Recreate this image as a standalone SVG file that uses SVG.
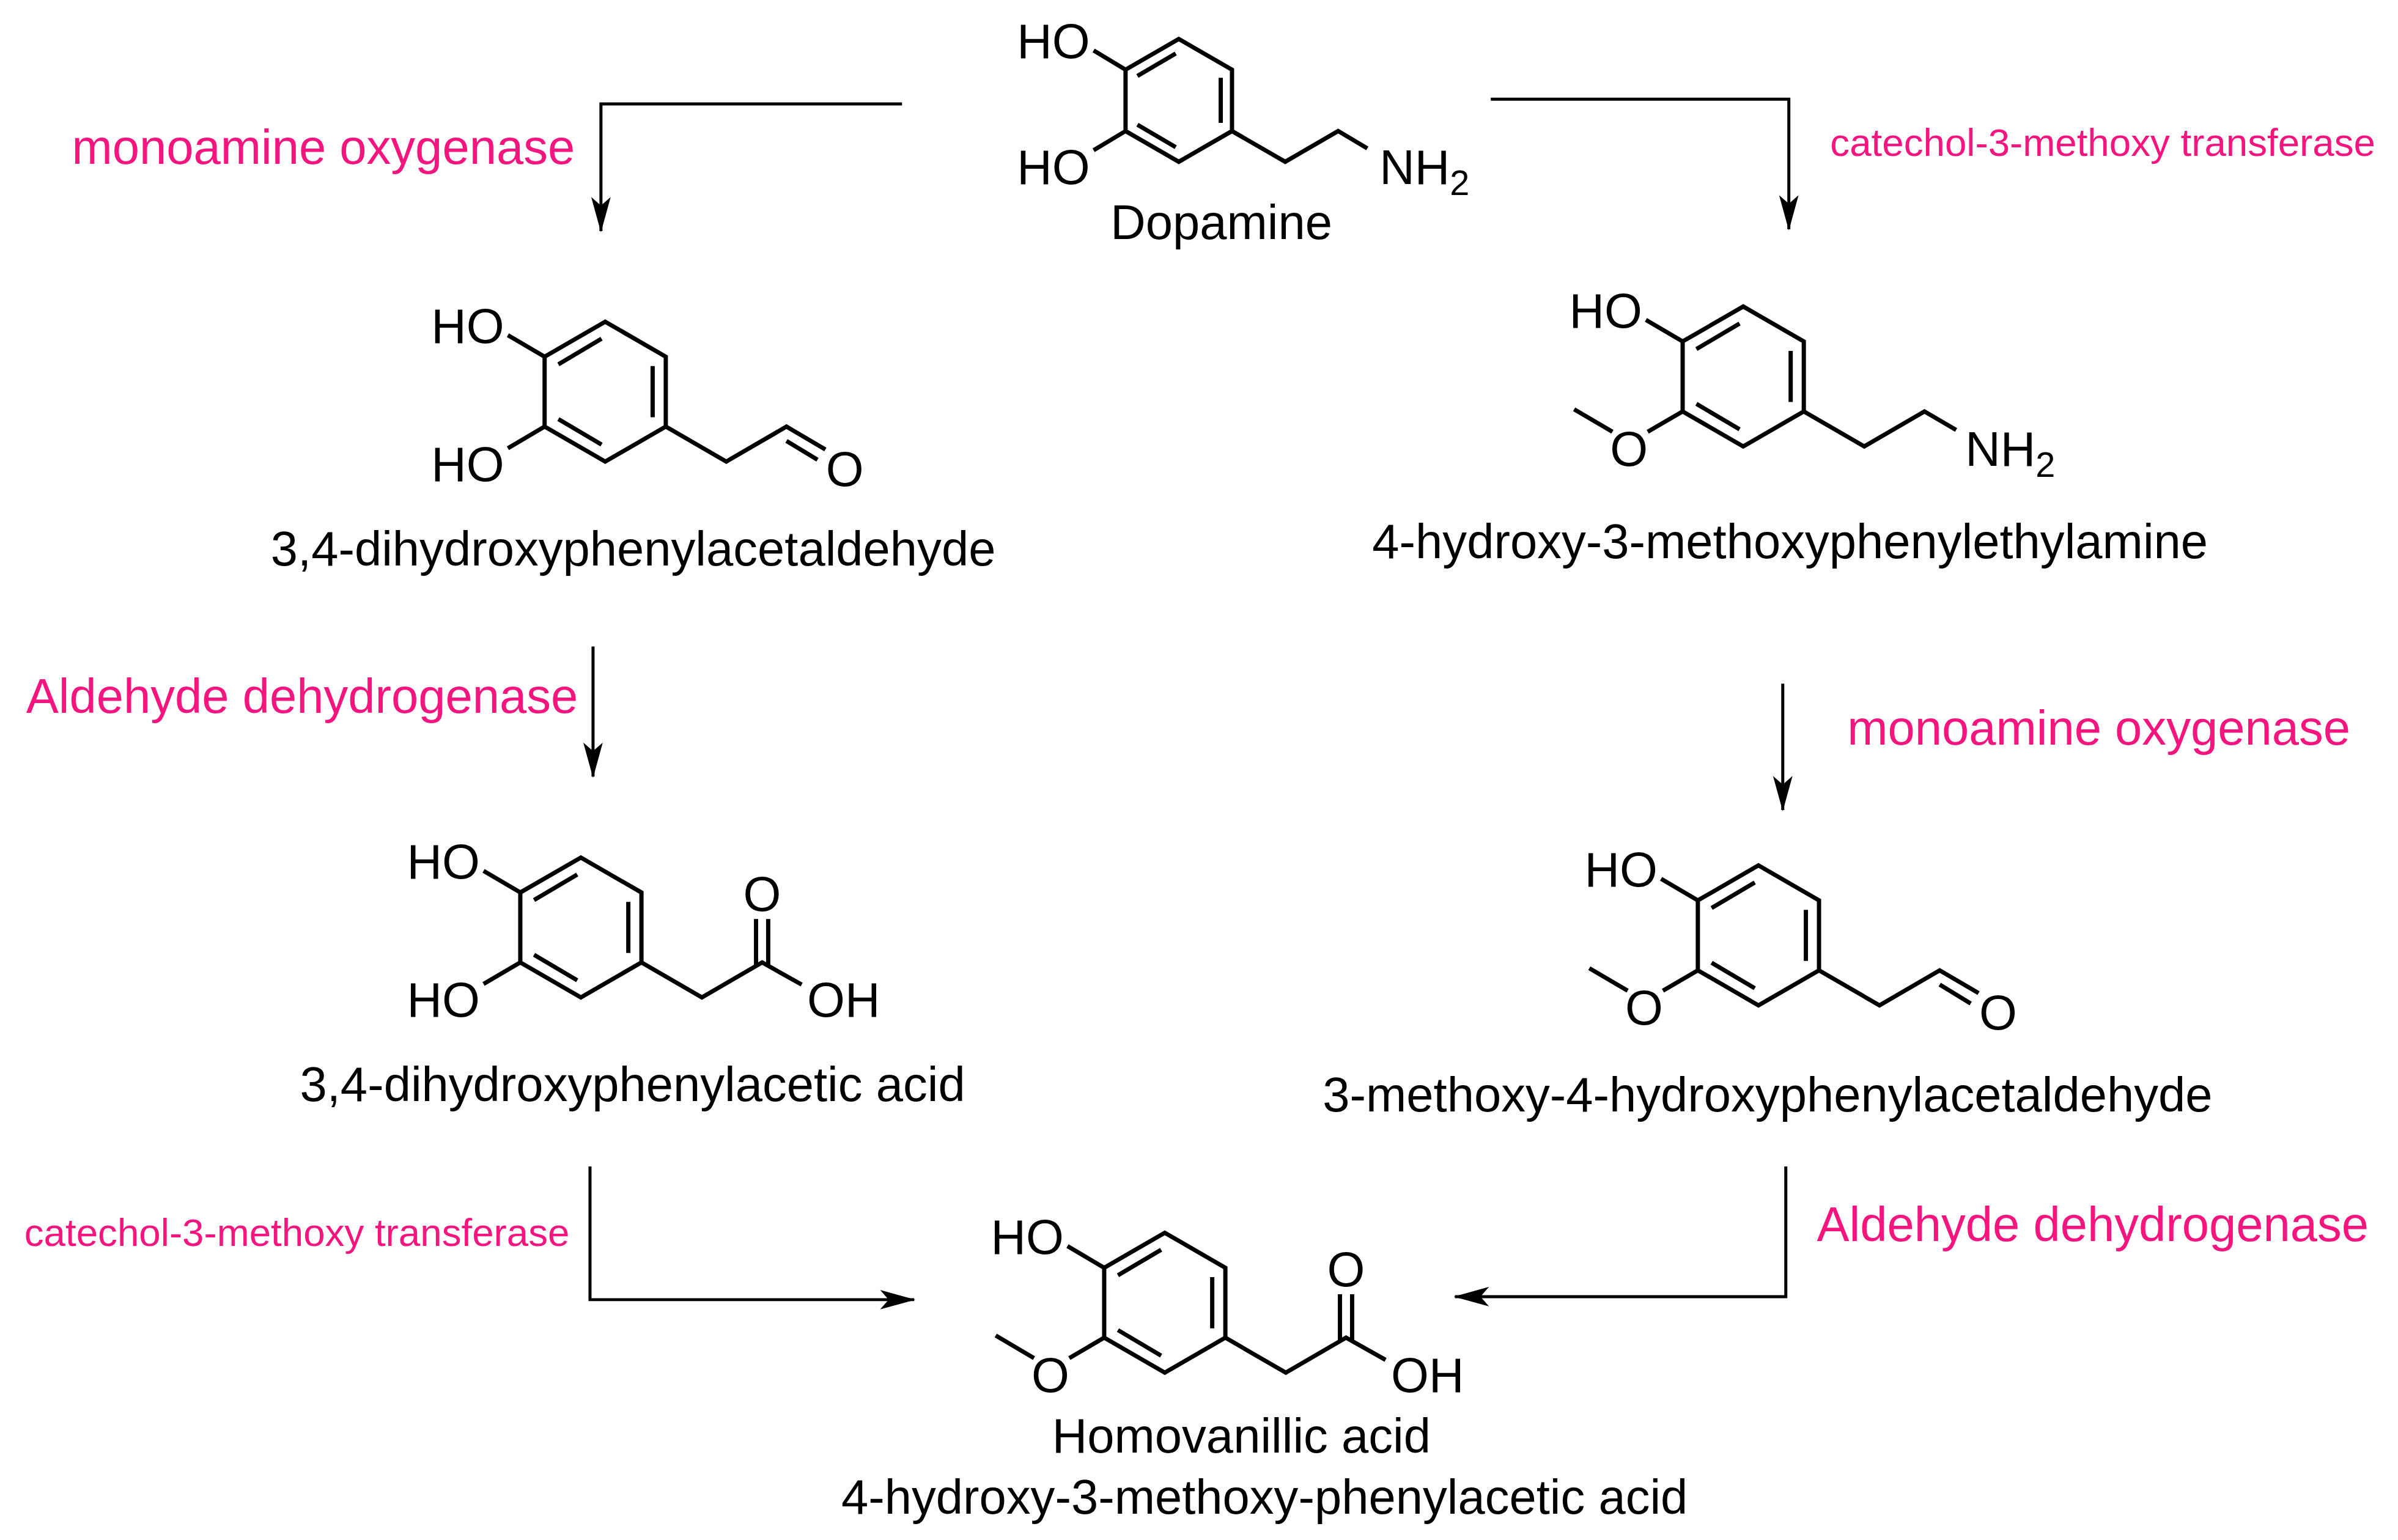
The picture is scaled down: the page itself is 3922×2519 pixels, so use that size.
<svg xmlns="http://www.w3.org/2000/svg" width="3922" height="2519" viewBox="0 0 3922 2519">
<style>
.b{fill:none;stroke:#000;stroke-width:7;stroke-linecap:butt;stroke-linejoin:miter}
.c{fill:none;stroke:#000;stroke-width:5}
text{font-family:"Liberation Sans",Arial,sans-serif;font-size:80px;fill:#000}
.p{fill:#f5157f}
.s{font-size:64px}
.m{text-anchor:middle}
.e{text-anchor:end}
</style>
<defs>
<marker id="ah" markerWidth="60" markerHeight="40" viewBox="0 0 60 40" refX="56" refY="20" orient="auto" markerUnits="userSpaceOnUse">
<path d="M0,4 L58,20 L0,36 L14,20 Z" fill="#000"/>
</marker>
<g id="ring">
<path class="b" d="M0,-115 L99.6,-57.5 L99.6,57.5 L0,115 L-99.6,57.5 L-99.6,-57.5 Z"/>
<path class="b" d="M78,-42 L78,42 M-77,-45 L-6,-87 M-77,45 L-6,87"/>
</g>
</defs>
<rect width="3922" height="2519" fill="#fff"/>
<g transform="scale(0.9948)">
<g id="connectors">
<path class="c" d="M1483,171 L988,171 L988,380" marker-end="url(#ah)"/>
<path class="c" d="M2451,163 L2941,163 L2941,377" marker-end="url(#ah)"/>
<path class="c" d="M975,1063 L975,1277" marker-end="url(#ah)"/>
<path class="c" d="M2931,1124 L2931,1332" marker-end="url(#ah)"/>
<path class="c" d="M970,1918 L970,2137 L1503,2137" marker-end="url(#ah)"/>
<path class="c" d="M2936,1918 L2936,2132 L2392,2132" marker-end="url(#ah)"/>
</g>

<g id="labels">
<text class="p" x="118" y="269">monoamine oxygenase</text>
<text class="p s" x="3009" y="256">catechol-3-methoxy transferase</text>
<text class="p" x="43" y="1172">Aldehyde dehydrogenase</text>
<text class="p" x="3037" y="1224">monoamine oxygenase</text>
<text class="p s" x="40" y="2049">catechol-3-methoxy transferase</text>
<text class="p" x="2987" y="2041">Aldehyde dehydrogenase</text>
</g>

<g id="dopamine" transform="translate(1938,165)">
<path class="b" d="M0,-101 L87.5,-50.5 L87.5,50.5 L0,101 L-87.5,50.5 L-87.5,-50.5 Z"/>
<path class="b" d="M69,-37 L69,37 M-68,-40 L-5,-77 M-68,40 L-5,77"/>
<path class="b" d="M-87.5,-50.5 L-140,-82 M-87.5,50.5 L-140,82 M87.5,50.5 L175,101 L262,50.5 L310,79"/>
<text class="e" x="-146" y="-70">HO</text>
<text class="e" x="-146" y="138">HO</text>
<text x="330" y="138">NH<tspan font-size="58" dy="18">2</tspan></text>
<text class="m" x="70" y="228">Dopamine</text>
</g>

<g id="dopal" transform="translate(995,644)">
<use href="#ring"/>
<path class="b" d="M-99.6,-57.5 L-160,-93 M-99.6,57.5 L-160,93 M99.6,57.5 L199,115 L298,57.5 L362,95 M298,81 L349,112"/>
<text class="e" x="-166" y="-80">HO</text>
<text class="e" x="-166" y="147">HO</text>
<text class="m" x="394" y="155">O</text>
<text class="m" x="46" y="286">3,4-dihydroxyphenylacetaldehyde</text>
</g>

<g id="mt" transform="translate(2866,619)">
<use href="#ring"/>
<path class="b" d="M-99.6,-57.5 L-160,-93 M-99.6,57.5 L-157,91 M-215,91 L-278,54 M99.6,57.5 L199,115 L298,57.5 L350,88"/>
<text class="e" x="-166" y="-80">HO</text>
<text class="m" x="-188" y="147">O</text>
<text x="365" y="147">NH<tspan font-size="58" dy="18">2</tspan></text>
<text class="m" x="77" y="299">4-hydroxy-3-methoxyphenylethylamine</text>
</g>

<g id="dopac" transform="translate(955,1525)">
<use href="#ring"/>
<path class="b" d="M-99.6,-57.5 L-160,-93 M-99.6,57.5 L-160,93 M99.6,57.5 L199,115 L298,57.5 L363,94 M288,63 L288,-14 M308,63 L308,-14"/>
<text class="e" x="-166" y="-80">HO</text>
<text class="e" x="-166" y="147">HO</text>
<text class="m" x="298" y="-27">O</text>
<text x="372" y="147">OH</text>
<text class="m" x="85" y="285">3,4-dihydroxyphenylacetic acid</text>
</g>

<g id="mopal" transform="translate(2891,1538)">
<use href="#ring"/>
<path class="b" d="M-99.6,-57.5 L-160,-93 M-99.6,57.5 L-157,91 M-215,91 L-278,54 M99.6,57.5 L199,115 L298,57.5 L362,95 M298,81 L349,112"/>
<text class="e" x="-166" y="-80">HO</text>
<text class="m" x="-188" y="147">O</text>
<text class="m" x="394" y="155">O</text>
<text class="m" x="15" y="290">3-methoxy-4-hydroxyphenylacetaldehyde</text>
</g>

<g id="hva" transform="translate(1915,2142)">
<use href="#ring"/>
<path class="b" d="M-99.6,-57.5 L-160,-93 M-99.6,57.5 L-157,91 M-215,91 L-278,54 M99.6,57.5 L199,115 L298,57.5 L363,94 M288,63 L288,-14 M308,63 L308,-14"/>
<text class="e" x="-166" y="-80">HO</text>
<text class="m" x="-188" y="147">O</text>
<text class="m" x="298" y="-27">O</text>
<text x="372" y="147">OH</text>
<text class="m" x="126" y="246">Homovanillic acid</text>
<text class="m" x="164" y="347">4-hydroxy-3-methoxy-phenylacetic acid</text>
</g>
</g>
</svg>
